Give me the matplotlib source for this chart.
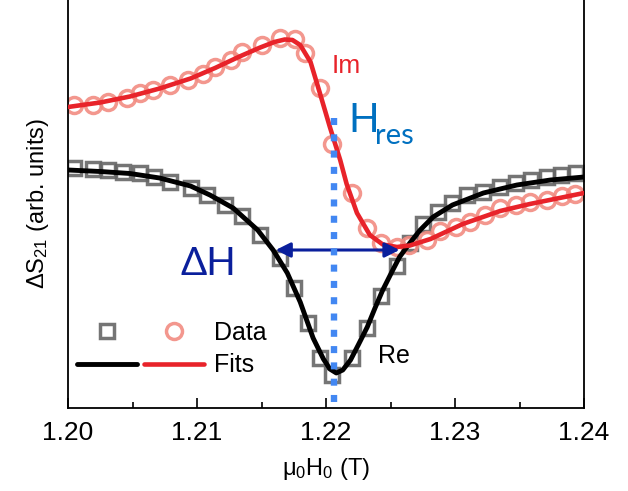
import matplotlib
matplotlib.use("Agg")
import matplotlib.pyplot as plt
from matplotlib.legend_handler import HandlerTuple


RE_X = [1.2005, 1.2019, 1.2031, 1.2043, 1.2056, 1.2067, 1.2079, 1.2095, 1.2108,
        1.2122, 1.2135, 1.2149, 1.2164, 1.2175, 1.2186, 1.2195, 1.2205, 1.2220,
        1.2232, 1.2243, 1.2255, 1.2265, 1.2275, 1.2287, 1.2298, 1.2309, 1.2322,
        1.2335, 1.2347, 1.2359, 1.2371, 1.2382, 1.2394]
RE_Y = [2.40, 2.39, 2.38, 2.36, 2.35, 2.31, 2.26, 2.20, 2.13,
        2.03, 1.92, 1.73, 1.50, 1.20, 0.85, 0.50, 0.33, 0.50,
        0.80, 1.12, 1.42, 1.65, 1.84, 1.96, 2.05, 2.13, 2.16,
        2.21, 2.25, 2.28, 2.31, 2.33, 2.35]

IM_X = [1.2005, 1.2019, 1.2031, 1.2046, 1.2056, 1.2066, 1.2079, 1.2093, 1.2105,
        1.2114, 1.2126, 1.2135, 1.2150, 1.2164, 1.2176, 1.2184, 1.2195, 1.2205,
        1.2220, 1.2232, 1.2243, 1.2255, 1.2264, 1.2278, 1.2288, 1.2301, 1.2312,
        1.2323, 1.2335, 1.2347, 1.2358, 1.2371, 1.2383, 1.2393]
IM_Y = [3.03, 3.03, 3.06, 3.10, 3.15, 3.18, 3.23, 3.28, 3.34,
        3.41, 3.48, 3.56, 3.63, 3.70, 3.69, 3.55, 3.20, 2.64,
        2.15, 1.80, 1.65, 1.61, 1.63, 1.68, 1.77, 1.81, 1.86,
        1.93, 2.00, 2.03, 2.06, 2.08, 2.12, 2.14]

# fit curves
RE_FIT_X = [1.2000, 1.2025, 1.2048, 1.2071, 1.2095, 1.2110, 1.2128, 1.2147,
            1.2159, 1.2170, 1.2180, 1.2190, 1.2198, 1.2203, 1.2208, 1.2213,
            1.2219, 1.2225, 1.2232, 1.2238, 1.2244, 1.2251, 1.2257, 1.2265,
            1.2273, 1.2283, 1.2298, 1.2322, 1.2348, 1.2374, 1.2400]
RE_FIT_Y = [2.38, 2.365, 2.345, 2.30, 2.22, 2.13, 2.00, 1.78,
            1.58, 1.35, 1.06, 0.70, 0.49, 0.39, 0.35, 0.38,
            0.48, 0.63, 0.81, 1.00, 1.18, 1.36, 1.51, 1.65,
            1.78, 1.91, 2.03, 2.15, 2.23, 2.28, 2.31]

IM_FIT_X = [1.2000, 1.2025, 1.2048, 1.2071, 1.2095, 1.2114, 1.2133, 1.2149,
            1.2160, 1.2168, 1.2174, 1.2180, 1.2188, 1.2195, 1.2203, 1.2211,
            1.2216, 1.2224, 1.2234, 1.2244, 1.2255, 1.2265, 1.2281, 1.2306,
            1.2335, 1.2358, 1.2381, 1.2400]
IM_FIT_Y = [3.01, 3.055, 3.115, 3.195, 3.295, 3.40, 3.515, 3.605,
            3.66, 3.685, 3.68, 3.63, 3.46, 3.16, 2.81, 2.48,
            2.24, 1.95, 1.73, 1.635, 1.61, 1.625, 1.69, 1.84,
            1.97, 2.04, 2.10, 2.15]

# resonance field and linewidth markers
H_RES = 1.2206
H_RES_TOP = 2.90
DH_LEFT = 1.2161
DH_RIGHT = 1.2257
DH_LEVEL = 1.58

X_TICKS = [1.20, 1.21, 1.22, 1.23, 1.24]
X_MINOR = [1.205, 1.215, 1.225, 1.235]

RED = "#e8232a"
RED_LIGHT = "#f28c82"
GREY = "#666666"
NAVY = "#0a1f9c"
BLUE = "#0070c0"
DOT_BLUE = "#4287f2"


def main():
    plt.rcParams["font.family"] = ["Liberation Sans", "DejaVu Sans"]
    plt.rcParams["mathtext.fontset"] = "custom"
    plt.rcParams["mathtext.rm"] = "Liberation Sans"
    plt.rcParams["mathtext.it"] = "Liberation Sans"

    fig = plt.figure(figsize=(6.28, 4.91), dpi=100)
    ax = fig.add_axes([68 / 628, 83 / 491, 516 / 628, 408 / 491])

    sq, = ax.plot(RE_X, RE_Y, "s", ms=10, mew=2.5, mfc="none", mec=GREY,
                  alpha=0.9, zorder=2)
    ci, = ax.plot(IM_X, IM_Y, "o", ms=11.5, mew=2.5, mfc="none", mec=RED_LIGHT,
                  alpha=0.9, zorder=2)
    re_line, = ax.plot(RE_FIT_X, RE_FIT_Y, color="black", lw=3.5, zorder=3,
                       solid_capstyle="round", solid_joinstyle="round")
    im_line, = ax.plot(IM_FIT_X, IM_FIT_Y, color=RED, lw=3.3, zorder=4,
                       solid_capstyle="round", solid_joinstyle="round")

    # linewidth arrow
    ax.annotate("", xy=(DH_LEFT, DH_LEVEL), xytext=(DH_RIGHT, DH_LEVEL),
                arrowprops=dict(arrowstyle="<|-|>", color=NAVY, lw=2.2,
                                mutation_scale=22, shrinkA=0, shrinkB=0),
                zorder=5)

    # resonance position
    ax.plot([H_RES, H_RES], [H_RES_TOP, 0], color=DOT_BLUE, lw=4.6,
            linestyle=(0, (1.1, 1.45)), dash_capstyle="butt", zorder=6)

    ax.text(1.2204, 3.35, "Im", color=RED, fontsize=19, va="baseline")
    ax.text(1.2240, 0.45, "Re", color="black", fontsize=18, va="baseline")
    ax.text(1.2217, 2.76, "H", color=BLUE, fontsize=29, va="baseline",
            family=["Lato", "DejaVu Sans"])
    ax.text(1.2238, 2.64, "res", color=BLUE, fontsize=21, va="baseline",
            family=["Lato", "DejaVu Sans"])
    ax.text(1.2087, 1.33, "\u0394H", color=NAVY, fontsize=28, va="baseline",
            family=["Lato", "DejaVu Sans"])

    ax.legend([(sq, ci), (re_line, im_line)], ["Data", "Fits"],
              handler_map={tuple: HandlerTuple(ndivide=None, pad=0.25)},
              loc="lower left", bbox_to_anchor=(0.017, 0.075),
              frameon=False, fontsize=18, numpoints=1, handlelength=5.1,
              handletextpad=0.4, labelspacing=0.35, borderpad=0,
              borderaxespad=0)

    ax.set_xlim(1.20, 1.24)
    ax.set_ylim(0, 4.08)
    ax.set_xticks(X_TICKS)
    ax.set_xticklabels([f"{t:.2f}" for t in X_TICKS])
    ax.set_xticks(X_MINOR, minor=True)
    ax.set_yticks([])
    ax.tick_params(axis="x", which="major", direction="in", length=7, width=1.2,
                   labelsize=19, pad=9)
    ax.tick_params(axis="x", which="minor", direction="in", length=4, width=1.2)
    ax.spines["top"].set_visible(False)
    for side in ("left", "right", "bottom"):
        ax.spines[side].set_linewidth(1.3)

    ax.set_xlabel(r"$\mathregular{\mu_0H_0}$ (T)", fontsize=17, labelpad=8)
    ax.set_ylabel(r"$\mathregular{\Delta S_{21}}$ (arb. units)", fontsize=17,
                  labelpad=12)

    fig.savefig("out.png", dpi=100)
    plt.close(fig)


if __name__ == "__main__":
    main()
